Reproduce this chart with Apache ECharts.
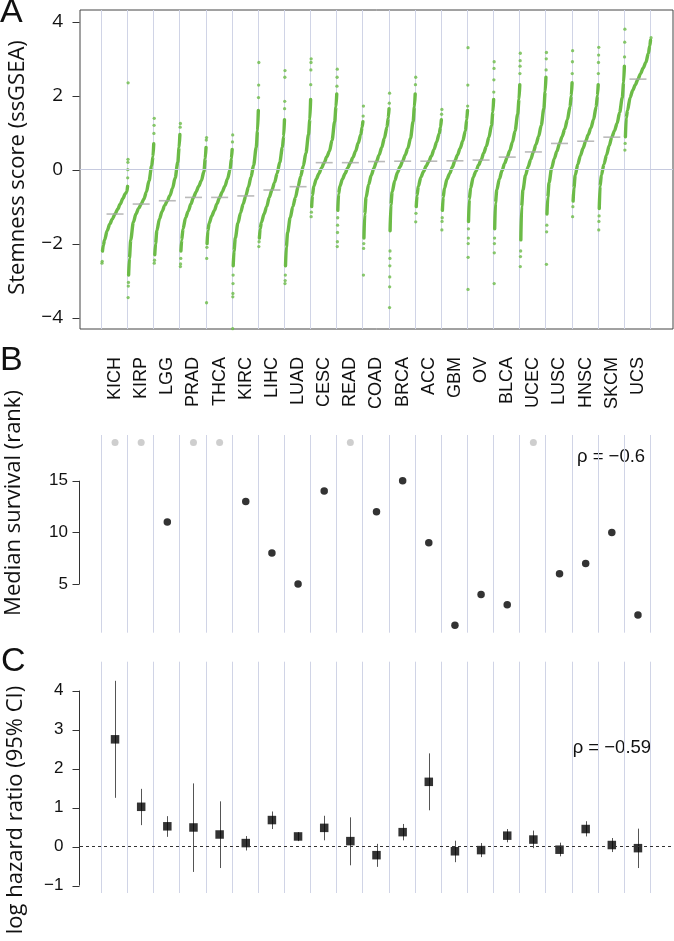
<!DOCTYPE html>
<html><head><meta charset="utf-8">
<script src="https://cdn.jsdelivr.net/npm/echarts@6/dist/echarts.min.js"></script>
<style>html,body{margin:0;padding:0;background:#fff;}#c{width:674px;height:941px;}</style>
</head><body><div id="c"></div>
<script>
// ---------- data ----------
const categories = ['KICH','KIRP','LGG','PRAD','THCA','KIRC','LIHC','LUAD','CESC','READ','COAD','BRCA','ACC','GBM','OV','BLCA','UCEC','LUSC','HNSC','SKCM','UCS'];
const quantileLevels = [0.02,0.05,0.1,0.2,0.3,0.4,0.5,0.6,0.7,0.8,0.9,0.95,0.98];
const stemnessQuantiles = [
  [-2.2,-2.05,-1.9,-1.65,-1.47,-1.33,-1.2,-1.07,-0.93,-0.78,-0.64,-0.6,-0.45],
  [-2.85,-2.4,-1.9,-1.42,-1.2,-1.05,-0.93,-0.8,-0.6,-0.3,0.1,0.35,0.7],
  [-2.3,-2.0,-1.65,-1.33,-1.13,-0.97,-0.84,-0.7,-0.5,-0.22,0.2,0.6,0.95],
  [-2.2,-1.9,-1.6,-1.3,-1.12,-0.93,-0.75,-0.6,-0.45,-0.3,-0.05,0.3,0.6],
  [-2.0,-1.65,-1.45,-1.25,-1.1,-0.92,-0.75,-0.6,-0.45,-0.25,0.0,0.3,0.55],
  [-2.6,-2.2,-1.85,-1.45,-1.17,-0.93,-0.71,-0.47,-0.2,0.12,0.6,1.05,1.6],
  [-1.85,-1.6,-1.42,-1.2,-1.0,-0.75,-0.55,-0.35,-0.1,0.2,0.6,0.9,1.35],
  [-2.6,-2.1,-1.7,-1.3,-1.0,-0.75,-0.46,-0.18,0.1,0.45,0.95,1.35,1.9],
  [-1.0,-0.7,-0.45,-0.25,-0.1,0.05,0.19,0.35,0.5,0.8,1.3,1.7,2.05],
  [-1.1,-0.65,-0.45,-0.25,-0.1,0.05,0.19,0.33,0.5,0.72,0.95,1.15,1.3],
  [-1.85,-1.2,-0.75,-0.4,-0.15,0.04,0.22,0.4,0.6,0.85,1.15,1.4,1.65],
  [-1.65,-0.95,-0.6,-0.3,-0.08,0.08,0.23,0.4,0.58,0.85,1.3,1.7,2.05],
  [-1.0,-0.7,-0.45,-0.2,-0.05,0.1,0.23,0.37,0.55,0.75,0.98,1.15,1.35],
  [-1.1,-0.75,-0.5,-0.25,-0.1,0.07,0.24,0.4,0.58,0.78,1.05,1.35,1.6],
  [-1.4,-0.8,-0.5,-0.2,-0.05,0.12,0.26,0.45,0.63,0.88,1.2,1.55,1.9],
  [-1.6,-0.9,-0.55,-0.25,-0.03,0.17,0.34,0.52,0.75,1.05,1.5,1.9,2.3],
  [-1.9,-1.0,-0.55,-0.15,0.08,0.28,0.48,0.68,0.9,1.2,1.65,2.1,2.5],
  [-1.2,-0.75,-0.35,0.05,0.3,0.5,0.71,0.9,1.1,1.35,1.7,2.0,2.35],
  [-0.85,-0.5,-0.15,0.15,0.38,0.58,0.77,0.95,1.13,1.35,1.7,2.0,2.3],
  [-1.05,-0.45,-0.15,0.15,0.4,0.65,0.88,1.05,1.25,1.55,1.95,2.35,2.8],
  [0.89,1.4,1.6,1.95,2.15,2.3,2.45,2.6,2.75,2.9,3.15,3.35,3.5]
];
const stemnessLowTail = [
  [-2.53,-2.48],[-3.46,-3.15,-3.05],[-2.53,-2.45],[-2.62,-2.55,-2.4],[-3.6,-2.4,-2.1],
  [-4.3,-3.44,-3.35,-3.08,-2.85],[-2.08,-1.95],[-3.08,-3.0,-2.85],[-1.27,-1.15],
  [-2.08,-1.95,-1.7,-1.5,-1.3],[-2.85,-2.13,-2.0],[-3.73,-3.17,-2.9,-2.6,-2.4,-2.2],
  [-1.41,-1.18],[-1.63,-1.4,-1.3],[-3.24,-2.37,-2.0,-1.85,-1.6],[-3.08,-2.25,-2.0,-1.85],
  [-2.62,-2.35,-2.2],[-2.56,-1.68,-1.5],[-1.27,-1.0],[-1.63,-1.4,-1.25],[0.53,0.71]
];
const stemnessHighTail = [
  [-0.22,0.0,0.2,0.28,2.35],[0.98,1.2,1.39],[1.15,1.25],[0.8,0.87],[0.75,0.94],
  [1.95,2.29,2.9],[1.65,1.85,2.5,2.68],[2.3,2.7,2.9,3.0],[2.26,2.5,2.72],
  [1.45,1.72],[1.8,2.07],[2.3,2.5],[1.5,1.63],[1.72,2.29,3.3],[2.1,2.43,2.74,2.92],
  [2.6,2.8,2.95,3.15],[2.7,3.0,3.17],[2.6,2.92,3.22],[2.6,2.9,3.1,3.31],[3.05,3.45,3.8],[3.57]
];
const survivalRank = [null,null,11,null,null,13,8,5,14,null,12,15,9,1,4,3,null,6,7,10,2];
const logHR   = [2.75,1.02,0.52,0.49,0.31,0.09,0.68,0.26,0.48,0.14,-0.22,0.37,1.66,-0.12,-0.09,0.28,0.18,-0.08,0.45,0.04,-0.04];
const hrLower = [1.25,0.55,0.25,-0.65,-0.55,-0.1,0.45,0.14,0.16,-0.48,-0.52,0.16,0.93,-0.4,-0.27,0.11,-0.04,-0.25,0.26,-0.14,-0.55];
const hrUpper = [4.25,1.48,0.78,1.62,1.16,0.27,0.9,0.37,0.79,0.75,0.07,0.58,2.39,0.15,0.09,0.45,0.41,0.1,0.65,0.22,0.46];
const stemTicks = [-4,-2,0,2,4];
const rankTicks = [5,10,15];
const hrTicks = [-1,0,1,2,3,4];
const rhoSurvival = 'ρ = −0.6';
const rhoHazard = 'ρ = −0.59';

// ---------- style ----------
const GREEN = '#6cbb47', GRIDC = '#d0d4e6', TXT = '#111';
const NA_RANK_POS = 18.7;
const TICK_LEN = 7;
const X_MIN = -0.84, X_MAX = categories.length + 0.84;
const boundaries = categories.map((c, i) => i).concat([categories.length]);
const fmtMinus = v => String(v).replace('-', '\u2212');

function slotLines(g) {
  return {
    type: 'custom', xAxisIndex: g, yAxisIndex: g, silent: true, z: 1,
    data: boundaries.map(b => [b, 0]), clip: false,
    renderItem: (params, api) => {
      const cs = params.coordSys;
      const x = Math.round(api.coord([api.value(0), 0])[0]) - 0.5;
      return { type: 'line', shape: { x1: x, y1: cs.y, x2: x, y2: cs.y + cs.height },
        style: { stroke: GRIDC, lineWidth: 1 } };
    }
  };
}
// y-axis ticks (and optional R-style axis line spanning first..last tick)
function axisDecor(g, ticks, withLine) {
  return {
    type: 'custom', xAxisIndex: g, yAxisIndex: g, silent: true, z: 5, clip: false,
    data: [[X_MIN, ticks[0], ticks[ticks.length - 1]]],
    encode: { x: 0, y: [1, 2] },
    renderItem: (params, api) => {
      const cs = params.coordSys;
      const x = Math.round(cs.x) - 0.5;
      const children = [];
      const st = { stroke: '#333', lineWidth: 1 };
      if (withLine) {
        const y1 = api.coord([X_MIN, api.value(1)])[1];
        const y2 = api.coord([X_MIN, api.value(2)])[1];
        children.push({ type: 'line', shape: { x1: x, y1: y1, x2: x, y2: y2 }, style: st });
      }
      ticks.forEach(t => {
        const y = Math.round(api.coord([X_MIN, t])[1]) + 0.5;
        children.push({ type: 'line', shape: { x1: x - TICK_LEN, y1: y, x2: x, y2: y }, style: st });
      });
      return { type: 'group', children: children };
    }
  };
}

const series = [];
series.push(Object.assign(slotLines(0), {
  markLine: { silent: true, symbol: 'none', label: { show: false },
    lineStyle: { color: '#c6cadf', type: 'solid', width: 1 }, data: [{ yAxis: 0 }] }
}));
series.push(slotLines(1));
series.push(slotLines(2));

// Panel A curves
stemnessQuantiles.forEach((qs, i) => {
  series.push({
    type: 'line', xAxisIndex: 0, yAxisIndex: 0, z: 2, silent: true,
    showSymbol: false, smooth: 0.3, smoothMonotone: 'x',
    lineStyle: { color: GREEN, width: 3.4, cap: 'round', join: 'round' },
    data: qs.map((v, k) => [i + quantileLevels[k], v])
  });
});
const tailPts = [];
stemnessLowTail.forEach((arr, i) => arr.forEach((v, k) => tailPts.push([i + 0.02 * k / arr.length, v])));
stemnessHighTail.forEach((arr, i) => arr.forEach((v, k) => tailPts.push([i + 0.98 + 0.02 * (k + 1) / arr.length, v])));
series.push({ type: 'scatter', xAxisIndex: 0, yAxisIndex: 0, z: 2, silent: true,
  symbolSize: 3.3, itemStyle: { color: GREEN }, data: tailPts });
series.push({ type: 'scatter', xAxisIndex: 0, yAxisIndex: 0, z: 3, silent: true,
  symbol: 'rect', symbolSize: [17, 1.6], itemStyle: { color: '#a9a9a9' },
  data: stemnessQuantiles.map((qs, i) => [i + 0.5, qs[quantileLevels.indexOf(0.5)]]) });
series.push(axisDecor(0, stemTicks, false));

// Panel B
series.push({ type: 'scatter', xAxisIndex: 1, yAxisIndex: 1, z: 3, silent: true,
  symbolSize: 7.5, itemStyle: { color: '#000' },
  data: survivalRank.map((r, i) => r == null ? null : [i + 0.5, r]).filter(d => d) });
series.push({ type: 'scatter', xAxisIndex: 1, yAxisIndex: 1, z: 3, silent: true,
  symbolSize: 7, itemStyle: { color: '#c2c2c2' },
  data: survivalRank.map((r, i) => r == null ? [i + 0.5, NA_RANK_POS] : null).filter(d => d) });
series.push(axisDecor(1, rankTicks, true));

// Panel C
series.push({ type: 'custom', xAxisIndex: 2, yAxisIndex: 2, z: 3, silent: true, clip: false,
  data: logHR.map((v, i) => [i + 0.5, hrLower[i], hrUpper[i]]),
  encode: { x: 0, y: [1, 2] },
  renderItem: (params, api) => {
    const p1 = api.coord([api.value(0), api.value(1)]);
    const p2 = api.coord([api.value(0), api.value(2)]);
    const x = Math.round(p1[0]) + 0.5;
    return { type: 'line', shape: { x1: x, y1: p1[1], x2: x, y2: p2[1] },
      style: { stroke: '#555', lineWidth: 1 } };
  },
  markLine: { silent: true, symbol: 'none', label: { show: false },
    lineStyle: { color: '#333', type: [3, 3], width: 1 }, data: [{ yAxis: 0 }] }
});
series.push({ type: 'scatter', xAxisIndex: 2, yAxisIndex: 2, z: 4, silent: true,
  symbol: 'rect', symbolSize: 8.5, itemStyle: { color: '#000' },
  data: logHR.map((v, i) => [i + 0.5, v]) });
series.push(axisDecor(2, hrTicks, true));

const xAxes = [0, 1, 2].map(g => ({
  type: 'value', gridIndex: g, min: X_MIN, max: X_MAX,
  axisLine: { show: false }, axisTick: { show: false }, splitLine: { show: false },
  axisLabel: g === 0 ? {
    show: true, customValues: categories.map((c, i) => i + 0.5),
    formatter: v => categories[Math.round(v - 0.5)], rotate: 90, margin: 28,
    fontFamily: 'Liberation Sans', fontSize: 18, color: TXT
  } : { show: false }
}));
function yAx(g, min, max, ticks, margin, font, size) {
  return {
    type: 'value', gridIndex: g, min: min, max: max,
    axisLine: { show: false }, splitLine: { show: false },
    axisTick: { show: false },
    axisLabel: { customValues: ticks, formatter: fmtMinus, margin: margin,
      fontFamily: font, fontSize: size, color: TXT }
  };
}

function txt(x, y, s, font, rot, align) {
  return { type: 'text', x: x, y: y, rotation: rot || 0, silent: true,
    style: { text: s, font: font, fill: TXT, textAlign: align || 'center', align: align || 'center',
      textVerticalAlign: 'middle', verticalAlign: 'middle' } };
}

const option = {
  animation: false,
  backgroundColor: '#fff',
  grid: [
    { left: 80, top: 10, width: 593, height: 319, show: true, borderColor: '#444', borderWidth: 1, backgroundColor: 'transparent' },
    { left: 80, top: 435, width: 593, height: 197.7 },
    { left: 80, top: 661.7, width: 593, height: 231.3 }
  ],
  xAxis: xAxes,
  yAxis: [
    yAx(0, -4.31, 4.32, stemTicks, 17, 'Open Sans', 19),
    yAx(1, 0.29, 19.43, rankTicks, 12, 'Liberation Sans', 17),
    yAx(2, -1.19, 4.74, hrTicks, 16.5, 'Liberation Sans', 17)
  ],
  series: series,
  graphic: [
    txt(0, 12.5, 'A', '34px "Liberation Sans"', 0, 'left'),
    txt(0, 360.5, 'B', '34px "Liberation Sans"', 0, 'left'),
    txt(1, 661.5, 'C', '34px "Liberation Sans"', 0, 'left'),
    txt(17.5, 167.5, 'Stemness score (ssGSEA)', '22px "Open Sans"', Math.PI / 2),
    txt(14, 503, 'Median survival (rank)', '22px "Open Sans"', Math.PI / 2),
    txt(16, 810, 'log hazard ratio (95% CI)', '22px "Open Sans"', Math.PI / 2),
    txt(577, 456.7, rhoSurvival, '18.5px "Liberation Sans"', 0, 'left'),
    txt(572.7, 748, rhoHazard, '18.5px "Liberation Sans"', 0, 'left')
  ]
};
const chart = echarts.init(document.getElementById('c'), null, { renderer: 'canvas' });
chart.setOption(option);
</script></body></html>
